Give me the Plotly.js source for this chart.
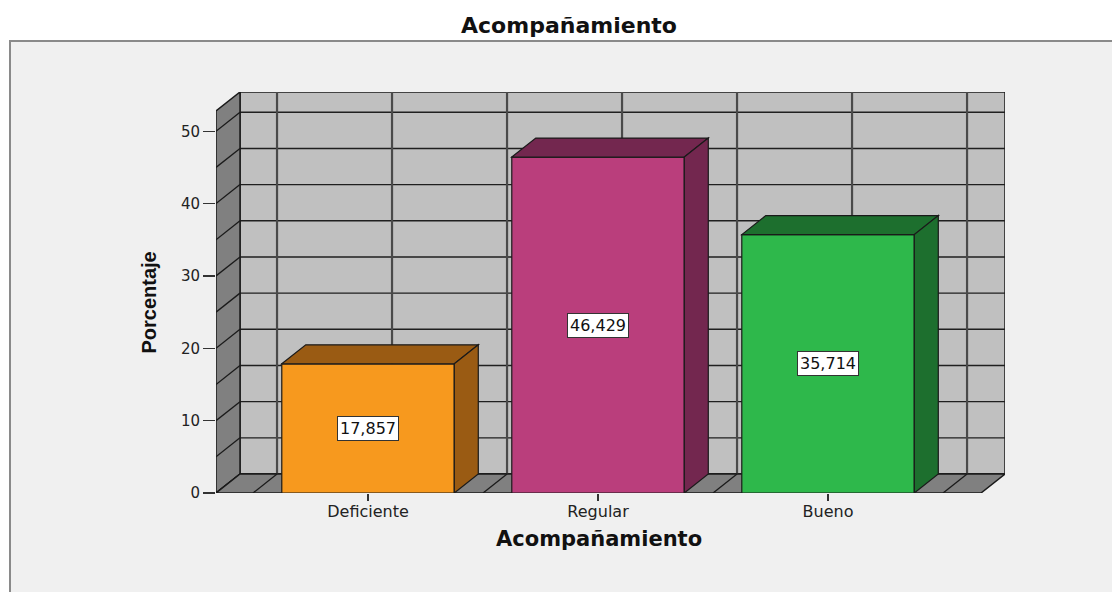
<!DOCTYPE html>
<html>
<head>
<meta charset="utf-8">
<script src="https://cdn.plot.ly/plotly-3.0.1.min.js"></script>
<style>
  html, body { margin: 0; padding: 0; background: #ffffff; overflow: hidden; }
  #frame { position: absolute; left: 9px; top: 40px; width: 1200px; height: 700px;
           background: #f0f0f0; border-top: 2px solid #8a8a8a; border-left: 2px solid #8a8a8a; }
  #chart { position: absolute; left: 0; top: 0; width: 1112px; height: 592px; }
</style>
</head>
<body>
<div id="frame"></div>
<div id="chart"></div>
<script>
// ---- data ----
const categories = ['Deficiente', 'Regular', 'Bueno'];
const percentages = [17.857, 46.429, 35.714];
const yTickValues = [0, 10, 20, 30, 40, 50];
const chartTitle = 'Acompañamiento';
const xAxisTitle = 'Acompañamiento';
const yAxisTitle = 'Porcentaje';

// ---- styles ----
const frontColors = ['#F7991E', '#BA3E7C', '#2EB84B'];
const shadeColors = ['#9A5B13', '#73274F', '#1D6F2E'];
const W = 1112, H = 592;
const M = { l: 216, r: 107, t: 92, b: 99 };
const xL = -0.661, xR = 2.665;   // front plane extent (category units)
const yMax = 52.8;               // wall height (value units)
const depthPx = { dx: 24, dy: 19 };
const barWidth = 0.75;
const gridStep = 5;

const plotW = W - M.l - M.r, plotH = H - M.t - M.b;
const DX = depthPx.dx * (xR - xL) / (plotW - depthPx.dx);
const DY = depthPx.dy * yMax / (plotH - depthPx.dy);

const xIdx = categories.map((_, i) => i);
const fmt = v => v.toFixed(3).replace('.', ',');

const shapes = [];
// back wall
shapes.push({ type: 'rect', layer: 'below', xref: 'x', yref: 'y',
  x0: xL + DX, x1: xR + DX, y0: DY, y1: yMax + DY,
  fillcolor: '#C0C0C0', line: { color: '#1a1a1a', width: 1.5 } });
// back wall horizontal grid
for (let v = 0; v <= 50; v += gridStep) {
  shapes.push({ type: 'line', layer: 'below', xref: 'x', yref: 'y',
    x0: xL + DX, x1: xR + DX, y0: v + DY, y1: v + DY,
    line: { color: '#1f1f1f', width: 1.4 } });
}
// back wall vertical grid (category centres and midpoints)
for (let c = -0.5; c <= categories.length - 0.5 + 1e-9; c += 0.5) {
  shapes.push({ type: 'line', layer: 'below', xref: 'x', yref: 'y',
    x0: c + DX, x1: c + DX, y0: DY, y1: yMax + DY,
    line: { color: '#4a4a4a', width: 2.2 } });
}
// left wall
shapes.push({ type: 'path', layer: 'below', xref: 'x', yref: 'y',
  path: `M ${xL},0 L ${xL},${yMax} L ${xL + DX},${yMax + DY} L ${xL + DX},${DY} Z`,
  fillcolor: '#808080', line: { color: '#1a1a1a', width: 1.5 } });
for (let v = 0; v <= 50; v += gridStep) {
  shapes.push({ type: 'line', layer: 'below', xref: 'x', yref: 'y',
    x0: xL, x1: xL + DX, y0: v, y1: v + DY,
    line: { color: '#1a1a1a', width: 1.3 } });
}
// floor
shapes.push({ type: 'path', layer: 'below', xref: 'x', yref: 'y',
  path: `M ${xL},0 L ${xR},0 L ${xR + DX},${DY} L ${xL + DX},${DY} Z`,
  fillcolor: '#808080', line: { color: '#1a1a1a', width: 1.5 } });
for (let c = -0.5; c <= categories.length - 0.5 + 1e-9; c += 0.5) {
  shapes.push({ type: 'line', layer: 'below', xref: 'x', yref: 'y',
    x0: c, x1: c + DX, y0: 0, y1: DY,
    line: { color: '#1a1a1a', width: 1.3 } });
}
// bar top and side faces
xIdx.forEach((i) => {
  const v = percentages[i];
  const x0 = i - barWidth / 2, x1 = i + barWidth / 2;
  shapes.push({ type: 'path', layer: 'above', xref: 'x', yref: 'y',
    path: `M ${x0},${v} L ${x0 + DX},${v + DY} L ${x1 + DX},${v + DY} L ${x1},${v} Z`,
    fillcolor: shadeColors[i], line: { color: '#1a1a1a', width: 1.2 } });
  shapes.push({ type: 'path', layer: 'above', xref: 'x', yref: 'y',
    path: `M ${x1},0 L ${x1 + DX},${DY} L ${x1 + DX},${v + DY} L ${x1},${v} Z`,
    fillcolor: shadeColors[i], line: { color: '#1a1a1a', width: 1.2 } });
});

const annotations = xIdx.map((i) => ({
  x: i, y: percentages[i] / 2, xref: 'x', yref: 'y',
  text: fmt(percentages[i]), showarrow: false,
  bgcolor: '#ffffff', bordercolor: '#333333', borderwidth: 1, borderpad: 2,
  font: { family: 'DejaVu Sans', size: 16, color: '#111111' }
}));
annotations.push({
  x: (xL + xR) / 2, y: 0, xref: 'x', yref: 'paper', yanchor: 'middle', yshift: -46,
  text: '<b>' + xAxisTitle + '</b>', showarrow: false,
  font: { family: 'DejaVu Sans', size: 21, color: '#111111' }
});
annotations.push({
  x: 0, y: 0.475, xref: 'paper', yref: 'paper', xanchor: 'center', yanchor: 'middle',
  xshift: -67, textangle: -90,
  text: '<b>' + yAxisTitle + '</b>', showarrow: false,
  font: { family: 'Liberation Sans Narrow, Liberation Sans, Arial', size: 20, color: '#111111' }
});

const trace = {
  type: 'bar', x: xIdx, y: percentages, width: barWidth,
  marker: { color: frontColors, line: { color: '#1a1a1a', width: 1.2 } },
  hoverinfo: 'skip'
};

const layout = {
  width: W, height: H,
  margin: M,
  paper_bgcolor: 'rgba(0,0,0,0)', plot_bgcolor: 'rgba(0,0,0,0)',
  showlegend: false,
  title: { text: '<b>' + chartTitle + '</b>', xref: 'container', yref: 'container',
    x: 569 / W, y: 1 - 25 / H, xanchor: 'center', yanchor: 'middle',
    font: { family: 'DejaVu Sans', size: 22, color: '#111111' } },
  xaxis: { range: [xL, xR + DX], tickmode: 'array', tickvals: xIdx, ticktext: categories,
    showgrid: false, zeroline: false, showline: false,
    ticks: 'outside', ticklen: 7, tickcolor: '#333', tickwidth: 1.5,
    ticklabelstandoff: -3,
    tickfont: { family: 'DejaVu Sans', size: 16, color: '#222' }, fixedrange: true },
  yaxis: { range: [0, yMax + DY], tickmode: 'array', tickvals: yTickValues,
    showgrid: false, zeroline: false, showline: false,
    ticks: 'outside', ticklen: 12, tickcolor: '#333', tickwidth: 1.2,
    tickfont: { family: 'DejaVu Sans', size: 15, color: '#222' }, fixedrange: true },
  shapes: shapes,
  annotations: annotations,
  bargap: 0
};

Plotly.newPlot('chart', [trace], layout, { displayModeBar: false, staticPlot: true });
</script>
</body>
</html>
